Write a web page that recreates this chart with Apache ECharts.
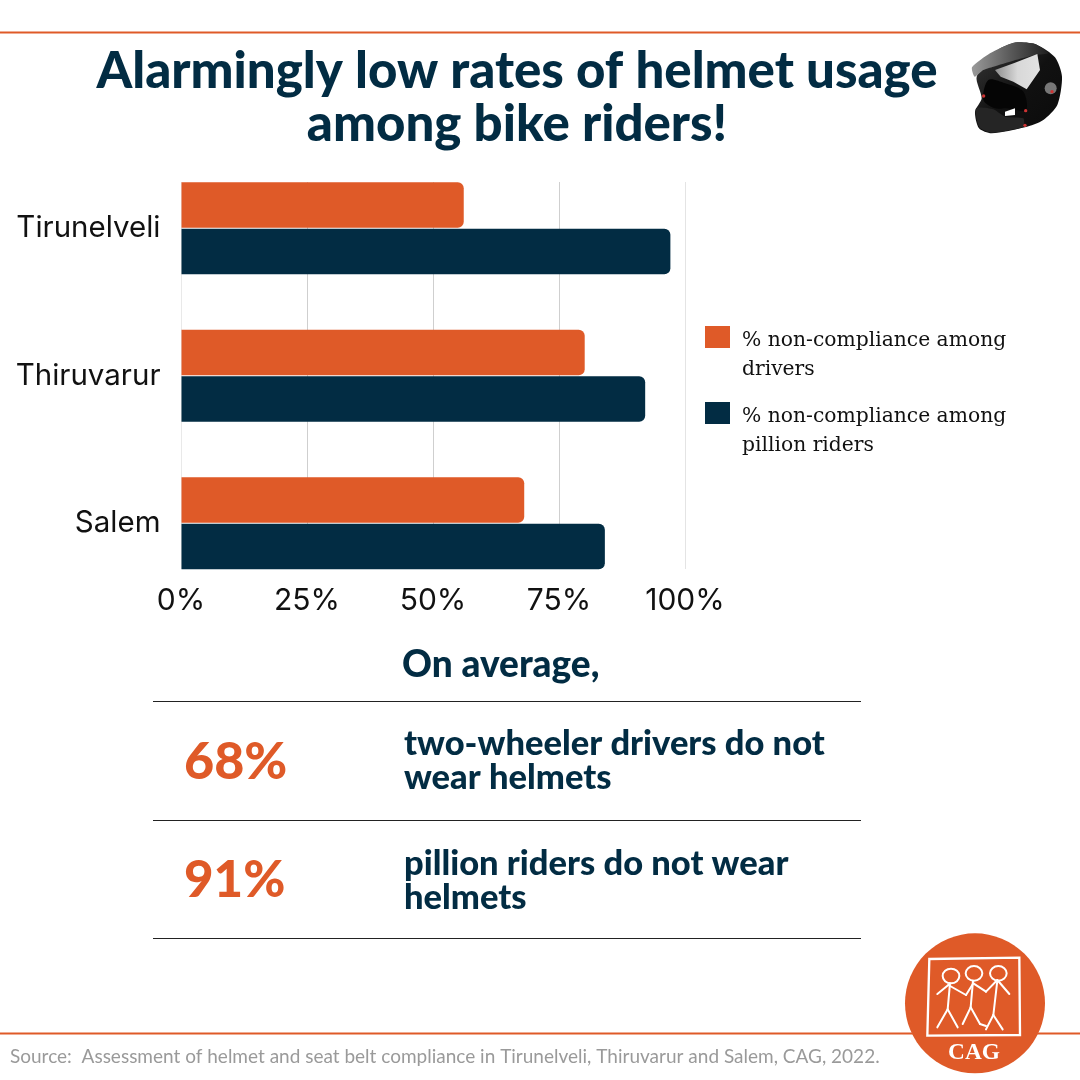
<!DOCTYPE html>
<html><head><meta charset="utf-8">
<style>html,body{margin:0;padding:0;background:#fff}#c{width:1080px;height:1080px}</style>
<script src="https://cdn.jsdelivr.net/npm/echarts@6/dist/echarts.min.js"></script>
</head><body><div id="c"></div>
<script>
const categories = ['Tirunelveli', 'Thiruvarur', 'Salem'];
const drivers = [56, 80, 68];
const pillion = [97, 92, 84];
const seriesNames = ['% non-compliance among\ndrivers', '% non-compliance among\npillion riders'];
const xTicks = [0, 25, 50, 75, 100];
const titleText = 'Alarmingly low rates of helmet usage\namong bike riders!';
const sourceText = 'Source:  Assessment of helmet and seat belt compliance in Tirunelveli, Thiruvarur and Salem, CAG, 2022.';
const ORANGE = '#DF5A28', NAVY = '#022C43';
const HEAD = 'Lato';
const AXISFONT = 'Inter';

function txt(x, y, text, size, color, weight, family) {
  return { type: 'text', x, y, silent: true, style: {
    text, fontSize: size, fill: color, fontWeight: weight || 'normal',
    fontFamily: family || HEAD, verticalAlign: 'middle'
  } };
}
function rule(x1, y, x2, color, w) {
  return { type: 'line', silent: true, shape: { x1, y1: y, x2, y2: y }, style: { stroke: color, lineWidth: w } };
}
const grad = (x, y, x2, y2, stops) => ({ type: 'linear', x, y, x2, y2, colorStops: stops.map((c, i) => ({ offset: i / (stops.length - 1), color: c })) });

// helmet and logo are drawn in 3x-zoomed local coordinates
const helmet = { type: 'group', x: 880, y: 20, scaleX: 1/3, scaleY: 1/3, silent: true, children: [
  { type: 'polygon', shape: { smooth: 0.25, points: [[290,170],[345,95],[405,68],[470,74],[525,112],[546,170],[532,255],[490,300],[435,322],[335,340],[297,325],[285,275],[305,235]] }, style: { fill: grad(0, 0, 1, 1, ['#3a3a3a', '#111', '#0b0b0b']) } },
  { type: 'polygon', shape: { smooth: 0.2, points: [[276,142],[330,100],[400,68],[465,72],[505,100],[465,105],[400,122],[340,140],[310,150],[284,170]] }, style: { fill: grad(0, 0, 1, 0, ['#9a9a9a', '#5a5a5a', '#1f1f1f']) } },
  { type: 'polygon', shape: { points: [[345,150],[405,128],[472,102],[480,150],[440,208],[400,185],[362,170]] }, style: { fill: grad(0, 0, 1, 0, ['#8e8e8e', '#d8d8d8', '#e2e2e2']) } },
  { type: 'polygon', shape: { smooth: 0.3, points: [[325,180],[375,190],[430,215],[438,270],[380,265],[345,265],[310,240]] }, style: { fill: '#050505' } },
  { type: 'polygon', shape: { points: [[375,275],[405,265],[405,285],[375,288]] }, style: { fill: '#fff' } },
  { type: 'polygon', shape: { smooth: 0.2, points: [[288,265],[340,268],[375,290],[430,295],[430,320],[335,338],[298,322]] }, style: { fill: '#252525' } },
  { type: 'circle', shape: { cx: 512, cy: 205, r: 18 }, style: { fill: '#777' } },
  { type: 'circle', shape: { cx: 516, cy: 215, r: 5 }, style: { fill: '#c33' } },
  { type: 'circle', shape: { cx: 437, cy: 272, r: 5 }, style: { fill: '#c33' } },
  { type: 'circle', shape: { cx: 435, cy: 316, r: 5 }, style: { fill: '#c33' } },
  { type: 'circle', shape: { cx: 311, cy: 228, r: 5 }, style: { fill: '#c33' } }
]};

const W = { stroke: '#fff', lineWidth: 6, fill: 'none', lineCap: 'round', lineJoin: 'round' };
const ln = (a, b, c, d) => ({ type: 'line', shape: { x1: a, y1: b, x2: c, y2: d }, style: W });
const stick = (cx, cy, hx, hy, fl, fr, fy) => [
  { type: 'ellipse', shape: { cx, cy, rx: 25, ry: 22 }, style: W },
  ln(cx - 3, cy + 22, hx, hy), ln(hx, hy, fl, fy), ln(hx, hy, fr, fy)
];
const logo = { type: 'group', x: 880, y: 920, scaleX: 1/3, scaleY: 1/3, silent: true, children: [
  { type: 'circle', shape: { cx: 285, cy: 250, r: 210 }, style: { fill: ORANGE } },
  { type: 'polygon', shape: { points: [[148,117],[418,113],[420,345],[142,347]] }, style: { fill: 'none', stroke: '#fff', lineWidth: 7 } },
  ...stick(213, 168, 203, 268, 172, 233, 322),
  ...stick(282, 160, 272, 262, 248, 300, 312),
  ...stick(355, 160, 340, 285, 318, 368, 328),
  ln(172, 222, 205, 195), ln(205, 195, 258, 225),
  ln(258, 225, 280, 190), ln(280, 190, 318, 215),
  ln(318, 215, 352, 180), ln(352, 180, 388, 222),
  ln(300, 312, 318, 318),
  { type: 'text', x: 282, y: 398, style: { text: 'CAG', fontSize: 70, fontWeight: 'bold', fontFamily: 'Liberation Serif', fill: '#fff', align: 'center', verticalAlign: 'middle' } }
]};

const chart = echarts.init(document.getElementById('c'), null, { renderer: 'canvas' });
chart.setOption({
  animation: false,
  backgroundColor: '#fff',
  title: {
    text: titleText, left: 512, top: 40, textAlign: 'center',
    textStyle: { fontFamily: HEAD, fontWeight: 900, fontSize: 51, lineHeight: 53, color: NAVY }
  },
  legend: {
    data: seriesNames, orient: 'vertical', left: 700, top: 321, itemWidth: 25, itemHeight: 58, itemGap: 18,
    icon: 'path://M0,0H25V22H0Z M0,58L0,58Z', selectedMode: false,
    textStyle: { fontFamily: 'DejaVu Serif', fontSize: 20.3, lineHeight: 29, color: '#111', padding: [0, 0, 0, 7] }
  },
  grid: [
    { left: 181, width: 504, top: 182, height: 387 },
    { left: 181.5, width: 504, top: 154.5, height: 442.5 }
  ],
  xAxis: [
    { gridIndex: 0, type: 'value', min: xTicks[0], max: xTicks[4], interval: xTicks[1] - xTicks[0],
      axisLine: { show: false }, axisTick: { show: false },
      axisLabel: { formatter: '{value}%', fontFamily: AXISFONT, fontSize: 30, color: '#111', margin: 17, hideOverlap: false },
      splitLine: { show: true, lineStyle: { width: 1, color: ['#e9e9e9', '#cfcfcf', '#cfcfcf', '#cfcfcf', '#e4e4e4'] } } },
    { gridIndex: 1, type: 'value', min: xTicks[0], max: xTicks[4], show: false, splitLine: { show: false } }
  ],
  yAxis: [
    { gridIndex: 0, type: 'category', data: categories, show: false },
    { gridIndex: 1, type: 'category', data: categories, inverse: true,
      axisLine: { show: false }, axisTick: { show: false },
      axisLabel: { fontFamily: AXISFONT, fontSize: 29.5, color: '#111', margin: 21, padding: [4, 0, 0, 0] } }
  ],
  series: [
    { name: 'grid', type: 'bar', xAxisIndex: 0, yAxisIndex: 0, data: [], silent: true },
    { name: seriesNames[0], type: 'bar', xAxisIndex: 1, yAxisIndex: 1, data: drivers, barWidth: 45.5, barGap: '2%',
      itemStyle: { color: ORANGE, borderRadius: [0, 6, 6, 0] } },
    { name: seriesNames[1], type: 'bar', xAxisIndex: 1, yAxisIndex: 1, data: pillion, barWidth: 45.5, barGap: '2%',
      itemStyle: { color: NAVY, borderRadius: [0, 6, 6, 0] } }
  ],
  graphic: [
    rule(0, 32.5, 1080, ORANGE, 2),
    rule(0, 1033.5, 1080, ORANGE, 2),
    rule(153, 701.5, 861, '#222', 1),
    rule(153, 820.5, 861, '#222', 1),
    rule(153, 938.5, 861, '#222', 1),
    txt(402, 665, 'On average,', 37, NAVY, 900),
    txt(184, 762, '68%', 52, ORANGE, 900),
    txt(184, 881, '91%', 51, ORANGE, 900),
    txt(404, 744, 'two-wheeler drivers do not', 34.5, NAVY, 900),
    txt(404, 778, 'wear helmets', 34.5, NAVY, 900),
    txt(404, 864, 'pillion riders do not wear', 34.5, NAVY, 900),
    txt(404, 898, 'helmets', 34.5, NAVY, 900),
    txt(10, 1057, sourceText, 19, '#9a9a9a', 'normal'),
    helmet,
    logo
  ]
});
</script></body></html>
